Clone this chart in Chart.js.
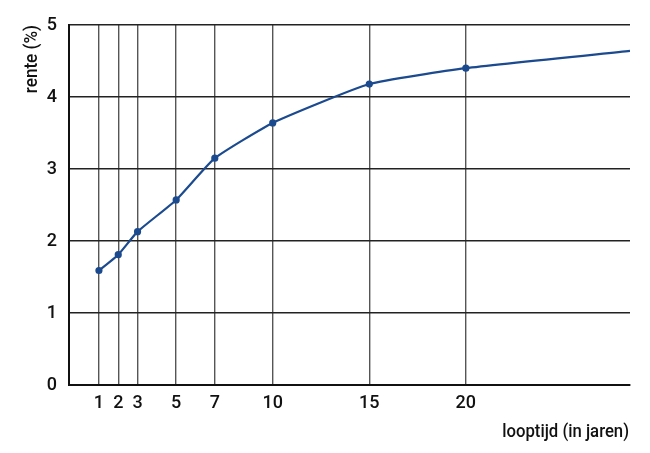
<!DOCTYPE html>
<html><head><meta charset="utf-8">
<script src="https://cdn.jsdelivr.net/npm/chart.js@4"></script>
<style>html,body{margin:0;padding:0;background:#fff}#wrap{width:650px;height:453px}</style>
</head><body><div id="wrap"><canvas id="c"></canvas></div>
<script>
const looptijd = [1, 2, 3, 5, 7, 10, 15, 20, 28.5];
const rente = [1.59, 1.81, 2.13, 2.57, 3.15, 3.64, 4.18, 4.40, 4.64];
const markers = [1, 1, 1, 1, 1, 1, 1, 1, 0];
const xTicks = [1, 2, 3, 5, 7, 10, 15, 20];
const yTicks = [0, 1, 2, 3, 4, 5];
const xTitle = 'looptijd (in jaren)';
const yTitle = 'rente (%)';
const FONT = "Roboto, 'Liberation Sans', sans-serif";
const blue = '#1b4a8f';

const titlePlugin = {
  id: 'titles',
  afterDraw(chart) {
    const ctx = chart.ctx, ca = chart.chartArea;
    ctx.save();
    ctx.fillStyle = '#111';
    ctx.font = '500 19px ' + FONT;
    ctx.save();
    ctx.translate(ca.right - 1, 437);
    ctx.scale(0.88, 1);
    ctx.textAlign = 'right';
    ctx.textBaseline = 'alphabetic';
    ctx.fillText(xTitle, 0, 0);
    ctx.restore();
    ctx.save();
    ctx.translate(37, ca.top);
    ctx.rotate(-Math.PI / 2);
    ctx.scale(0.9, 1);
    ctx.textAlign = 'right';
    ctx.textBaseline = 'alphabetic';
    ctx.fillText(yTitle, 0, 0);
    ctx.restore();
    ctx.restore();
  }
};

new Chart(document.getElementById('c'), {
  type: 'line',
  data: {
    datasets: [{
      data: looptijd.map((x, i) => ({x: x, y: rente[i]})),
      borderColor: blue, backgroundColor: blue, borderWidth: 2.2,
      pointRadius: markers.map(m => m * 2.5), pointHoverRadius: 0,
      tension: 0.15
    }]
  },
  plugins: [titlePlugin],
  options: {
    responsive: true, maintainAspectRatio: false, animation: false,
    layout: {padding: {top: 25, right: 20, left: 0, bottom: 0}},
    plugins: {legend: {display: false}, tooltip: {enabled: false}},
    scales: {
      x: {
        type: 'linear', min: -0.55, max: 28.5,
        afterBuildTicks: s => { s.ticks = xTicks.map(v => ({value: v})); },
        afterFit: s => { s.height = 68; },
        grid: {color: '#555', lineWidth: 1.4, drawTicks: false},
        border: {color: '#111', width: 2},
        ticks: {color: '#111', font: {family: FONT, size: 18, weight: 500}, padding: 8, maxRotation: 0, autoSkip: false},
        title: {display: false}
      },
      y: {
        min: 0, max: 5,
        afterBuildTicks: s => { s.ticks = yTicks.map(v => ({value: v})); },
        afterFit: s => { s.width = 69; },
        grid: {color: '#222', lineWidth: 1.4, drawTicks: false},
        border: {color: '#111', width: 2},
        ticks: {color: '#111', font: {family: FONT, size: 18, weight: 500}, padding: 12},
        title: {display: false}
      }
    }
  }
});
</script></body></html>
